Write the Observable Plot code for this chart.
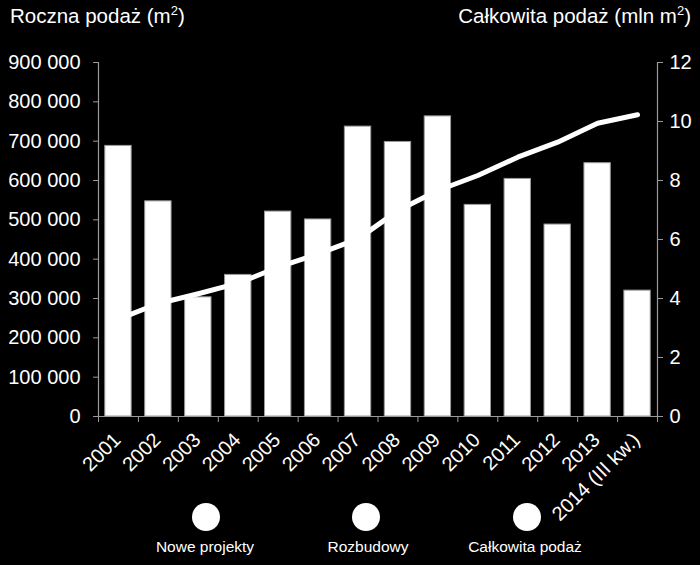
<!DOCTYPE html>
<html><head><meta charset="utf-8">
<script src="https://cdn.jsdelivr.net/npm/d3@7"></script>
<script src="https://cdn.jsdelivr.net/npm/@observablehq/plot@0.6"></script>
<style>
body{margin:0;background:#000;}
#wrap{position:relative;width:700px;height:565px;background:#000;font-family:"Liberation Sans",Arial,sans-serif;color:#fff;overflow:hidden}
#wrap svg{position:absolute;left:0;top:0}
.t{position:absolute;font-size:20.5px;line-height:20px;white-space:nowrap;top:6px}
.t sup{font-size:13px;vertical-align:8px;line-height:0}
.dot{position:absolute;width:28px;height:28px;border-radius:50%;background:#fff;top:503px}
.lab{position:absolute;top:539px;font-size:15.5px;line-height:16px;white-space:nowrap;transform:translateX(-50%)}
</style></head><body>
<div id="wrap"></div>
<script>
const years = ["2001","2002","2003","2004","2005","2006","2007","2008","2009","2010","2011","2012","2013","2014 (III kw.)"];
const annualSupply = [688000,547000,303000,360000,521000,501000,737000,698000,763000,538000,604000,488000,644000,320000];
const totalSupply = [3.3,3.83,4.16,4.52,5.06,5.51,6.02,6.98,7.66,8.17,8.79,9.3,9.94,10.23];
const leftTicks = [0,100000,200000,300000,400000,500000,600000,700000,800000,900000];
const rightTicks = [0,2,4,6,8,10,12];
const legendLabels = ["Nowe projekty","Rozbudowy","Całkowita podaż"];

const k = 900000 / 12;
const data = years.map((y, i) => ({i, year: y, v: annualSupply[i], t: totalSupply[i]}));
const fmt = d => d3.format(",")(d).replace(/,/g, " ");
const gray = "#9a9a9a";

const chart = Plot.plot({
  width: 700, height: 565,
  marginLeft: 98, marginRight: 43, marginTop: 62, marginBottom: 149,
  style: {background: "#000", color: "#fff", fontFamily: "'Liberation Sans', Arial, sans-serif", fontSize: "20px"},
  x: {type: "linear", domain: [0, years.length], axis: null},
  y: {domain: [0, 900000], axis: null},
  marks: [
    Plot.rectY(data, {x1: d => d.i + 0.17, x2: d => d.i + 0.83, y: "v", fill: "#fff", stroke: gray, strokeWidth: 1}),
    Plot.ruleX([0, years.length], {stroke: gray, strokeWidth: 1.2}),
    Plot.ruleY([0], {stroke: gray, strokeWidth: 1.2}),
    Plot.axisY(leftTicks, {anchor: "left", label: null, tickSize: 5, tickPadding: 13, tickFormat: fmt, stroke: gray, fill: "#fff", fontSize: 20}),
    Plot.axisY(rightTicks.map(v => v * k), {anchor: "right", label: null, tickSize: 5, tickPadding: 7, tickFormat: d => String(Math.round(d / k)), stroke: gray, fill: "#fff", fontSize: 20}),
    Plot.axisX(d3.range(years.length + 1), {anchor: "bottom", label: null, tickSize: 6, tickFormat: () => null, stroke: gray}),
    Plot.text(data, {x: d => d.i + 0.5, text: "year", frameAnchor: "bottom", dy: 20, dx: -1, rotate: -45, textAnchor: "end", lineAnchor: "middle", fill: "#fff", fontSize: 20}),
    Plot.line(data, {x: d => d.i + 0.5, y: d => d.t * k, stroke: "#fff", strokeWidth: 5, strokeLinecap: "round", strokeLinejoin: "round"})
  ]
});
const wrap = document.getElementById("wrap");
wrap.appendChild(chart);

const tl = document.createElement("div");
tl.className = "t"; tl.style.left = "10px";
tl.innerHTML = "Roczna podaż (m<sup>2</sup>)";
wrap.appendChild(tl);
const tr = document.createElement("div");
tr.className = "t"; tr.style.right = "9px";
tr.innerHTML = "Całkowita podaż (mln m<sup>2</sup>)";
wrap.appendChild(tr);

const dotX = [206, 366, 527];
const labX = [205, 368, 525];
legendLabels.forEach((l, i) => {
  const d = document.createElement("div");
  d.className = "dot"; d.style.left = (dotX[i] - 14) + "px";
  wrap.appendChild(d);
  const t = document.createElement("div");
  t.className = "lab"; t.style.left = labX[i] + "px"; t.textContent = l;
  wrap.appendChild(t);
});
</script>
</body></html>
